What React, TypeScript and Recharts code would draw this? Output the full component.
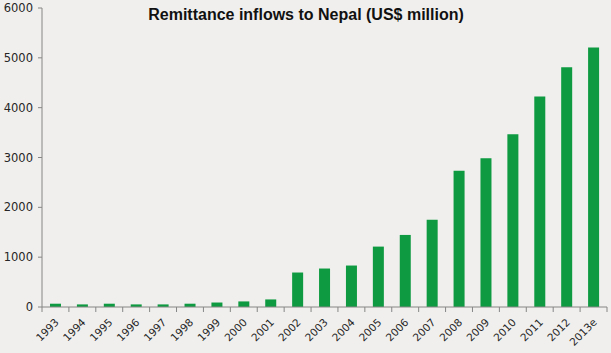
import React from 'react';
import { BarChart, Bar, XAxis, YAxis } from 'recharts';

const years = ['1993', '1994', '1995', '1996', '1997', '1998', '1999', '2000', '2001', '2002', '2003', '2004', '2005', '2006', '2007', '2008', '2009', '2010', '2011', '2012', '2013e'];
const remittance = [66, 52, 66, 52, 52, 66, 90, 112, 152, 692, 772, 832, 1212, 1446, 1752, 2732, 2986, 3466, 4226, 4812, 5206];
const yTicks = [0, 1000, 2000, 3000, 4000, 5000, 6000];
const title = 'Remittance inflows to Nepal (US$ million)';

const data = years.map((year, i) => ({ year, value: remittance[i] }));

const AXIS = '#868686';
const TEXT = '#262626';
const BG = '#f0efed';
const BAR = '#0d9a40';

const XTick = (props: any) => {
  const { x, y, payload, index } = props;
  const half = payload && payload.offset ? payload.offset : 0;
  const last = index === years.length - 1;
  return (
    <g>
      <line x1={x - half} x2={x - half} y1={y} y2={y + 5} stroke={AXIS} strokeWidth={1} />
      {last && <line x1={x + half} x2={x + half} y1={y} y2={y + 5} stroke={AXIS} strokeWidth={1} />}
      <text
        x={x + 4}
        y={y + 16}
        transform={`rotate(-45, ${x + 4}, ${y + 16})`}
        textAnchor="end"
        fontFamily="DejaVu Sans"
        fontSize={10.5}
        fill={TEXT}
      >
        {payload.value}
      </text>
    </g>
  );
};

export default function App() {
  return (
    <div style={{ position: 'absolute', left: 0, top: 0, width: 611, height: 353, background: BG }}>
      <BarChart
        width={611}
        height={353}
        data={data}
        margin={{ top: 8, right: 4, bottom: 0, left: 0 }}
        barSize={11}
      >
        <text x={306} y={20} textAnchor="middle" fontFamily="Liberation Sans" fontWeight="bold" fontSize={16} fill="#111">
          {title}
        </text>
        <XAxis
          dataKey="year"
          interval={0}
          height={46}
          tickLine={false}
          tickSize={0}
          tickMargin={0}
          axisLine={{ stroke: AXIS, strokeWidth: 1 }}
          tick={<XTick />}
        />
        <YAxis
          width={42}
          domain={[0, 6000]}
          ticks={yTicks}
          interval={0}
          tickSize={4}
          tickMargin={5}
          axisLine={{ stroke: AXIS, strokeWidth: 1 }}
          tickLine={{ stroke: AXIS }}
          tick={{ fontFamily: 'DejaVu Sans', fontSize: 11.5, fill: TEXT }}
        />
        <Bar dataKey="value" fill={BAR} isAnimationActive={false} />
      </BarChart>
    </div>
  );
}
